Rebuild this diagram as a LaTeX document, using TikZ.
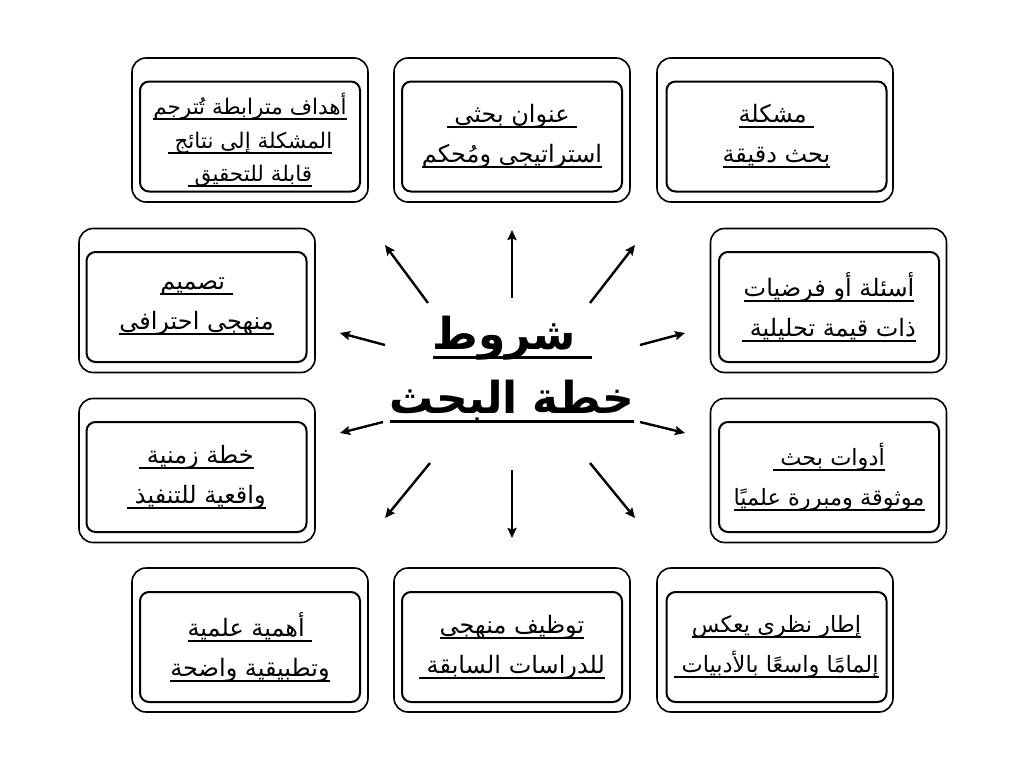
\documentclass[tikz,border=0pt]{standalone}
\usepackage{fontspec}
\usetikzlibrary{arrows.meta}
\TeXXeTstate=1
\newfontfamily\arabicfont[Script=Arabic]{DejaVu Sans}
\newcommand\ulr[1]{\leavevmode\setbox0=\hbox{\beginR#1\endR}\rlap{\vrule width\wd0 height -3.5pt depth 5.5pt}\box0}
\newcommand\ulbig[1]{\leavevmode\setbox0=\hbox{\beginR#1\endR}\rlap{\vrule width\wd0 height -6pt depth 9.5pt}\box0}
\begin{document}
\begin{tikzpicture}[x=1pt,y=-1pt,
  outerbox/.style={draw, line width=1.6pt, rounded corners=14pt, minimum width=236pt, minimum height=144pt, inner sep=0pt},
  innerbox/.style={draw, line width=2pt, rounded corners=9pt, minimum width=220pt, minimum height=110pt, inner sep=0pt},
  boxtext/.style={align=center, inner sep=0pt, font=\arabicfont\fontsize{24}{40}\selectfont},
  narrowtext/.style={align=center, inner sep=0pt, font=\arabicfont\fontsize{22.5}{40}\selectfont},
  smalltext/.style={align=center, inner sep=0pt, font=\arabicfont\fontsize{21.5}{33.5}\selectfont},
  titletext/.style={align=center, inner sep=0pt, font=\arabicfont\bfseries\fontsize{44}{64}\selectfont},
  arr/.style={line width=2.4pt, -{Stealth[length=10pt,width=9pt,inset=1.5pt]}}]
\useasboundingbox (0,0) rectangle (1024,768);
\fill[white] (0,0) rectangle (1024,768);

% outer boxes
\node[outerbox] (o1) at (250,130) {};
\node[outerbox] (o2) at (512,130) {};
\node[outerbox] (o3) at (775,130) {};
\node[outerbox] (o4) at (197,300.5) {};
\node[outerbox] (o5) at (828.5,300.5) {};
\node[outerbox] (o6) at (197,470.5) {};
\node[outerbox] (o7) at (828.5,470.5) {};
\node[outerbox] (o8) at (250,640) {};
\node[outerbox] (o9) at (512,640) {};
\node[outerbox] (o10) at (775,640) {};

% inner boxes
\node[innerbox] (i1) at (250,136.5) {};
\node[innerbox] (i2) at (512,136.5) {};
\node[innerbox] (i3) at (776.5,136.5) {};
\node[innerbox] (i4) at (196.5,307) {};
\node[innerbox] (i5) at (829,307) {};
\node[innerbox] (i6) at (196.5,477) {};
\node[innerbox] (i7) at (829,477) {};
\node[innerbox] (i8) at (250,647) {};
\node[innerbox] (i9) at (512,647) {};
\node[innerbox] (i10) at (776.5,647) {};

% texts
\node[smalltext] (t1) at ([yshift=-4pt]i1.center) {\ulr{أهداف مترابطة تُترجم}\\\ulr{المشكلة إلى نتائج\ }\\\ulr{قابلة للتحقيق\ }};
\node[boxtext] (t2) at (i2.center) {\ulr{\ عنوان بحثي\ }\\\ulr{استراتيجي ومُحكم}};
\node[boxtext] (t3) at (i3.center) {\ulr{\ مشكلة}\\\ulr{بحث دقيقة}};
\node[boxtext] (t4) at (i4.center) {\ulr{\ تصميم}\\\ulr{منهجي احترافي}};
\node[boxtext] (t5) at (i5.center) {\ulr{أسئلة أو فرضيات}\\\ulr{ذات قيمة تحليلية\ }};
\node[boxtext] (t6) at (i6.center) {\ulr{خطة زمنية\ }\\\ulr{واقعية للتنفيذ\ }};
\node[narrowtext] (t7) at (i7.center) {\ulr{أدوات بحث\ }\\\ulr{موثوقة ومبررة علميًا}};
\node[boxtext] (t8) at (i8.center) {\ulr{\ أهمية علمية}\\\ulr{وتطبيقية واضحة}};
\node[boxtext] (t9) at (i9.center) {\ulr{توظيف منهجي}\\\ulr{للدراسات السابقة\ }};
\node[narrowtext] (t10) at (i10.center) {\ulr{إطار نظري يعكس}\\\ulr{إلمامًا واسعًا بالأدبيات\ }};

% title
\node[titletext] (title) at (512,370) {\ulbig{\ شروط}\\\ulbig{خطة البحث}};

% arrows
\coordinate (a1s) at (512,298); \coordinate (a1e) at (512,230);
\coordinate (a2s) at (428,303); \coordinate (a2e) at (385,245);
\coordinate (a3s) at (590,303); \coordinate (a3e) at (635,245);
\coordinate (a4s) at (385,345); \coordinate (a4e) at (340,333);
\coordinate (a5s) at (640,345); \coordinate (a5e) at (685,333);
\coordinate (a6s) at (383,422); \coordinate (a6e) at (340,433);
\coordinate (a7s) at (640,422); \coordinate (a7e) at (685,433);
\coordinate (a8s) at (430,463); \coordinate (a8e) at (385,518);
\coordinate (a9s) at (590,463); \coordinate (a9e) at (635,518);
\coordinate (a10s) at (512,470); \coordinate (a10e) at (512,538);
\foreach \k in {1,...,10} {\draw[arr] (a\k s) -- (a\k e);}
\end{tikzpicture}
\end{document}
